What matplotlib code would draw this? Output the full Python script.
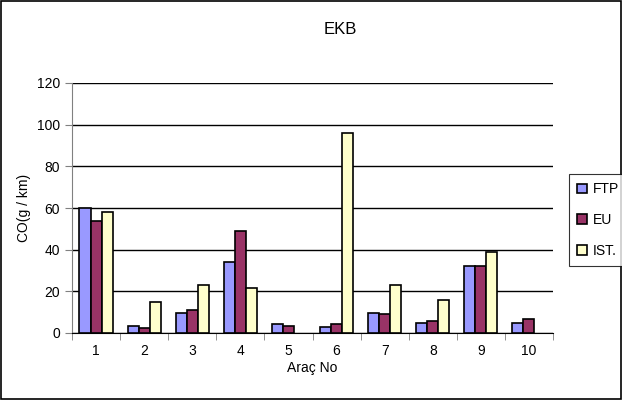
import numpy as np
import matplotlib.pyplot as plt
from matplotlib.patches import Rectangle

plt.rcParams['font.family'] = ['Liberation Sans', 'DejaVu Sans']

# data
vehicles = ['1', '2', '3', '4', '5', '6', '7', '8', '9', '10']
ftp = [60, 3.4, 9.8, 34, 4.2, 2.7, 9.8, 5, 32, 5]
eu = [54, 2.6, 11, 49, 3.4, 4.2, 9, 6, 32, 6.7]
ist = [58, 15, 23, 21.4, 0, 96, 23, 15.8, 38.7, 0]
series = ['FTP', 'EU', 'IST.']
colors = ['#9999FF', '#993366', '#FFFFCC']

fig = plt.figure(figsize=(6.22, 4.0), dpi=100)
ax = fig.add_axes([72/622, 1-333/400, (553-72)/622, 250/400])

x = np.arange(len(vehicles))
w = 0.23
for i, (vals, lab) in enumerate(zip([ftp, eu, ist], series)):
    bars = ax.bar(x + (i-1)*w, vals, w, color=colors[i], edgecolor='black', linewidth=1.2,
                  label=lab, zorder=3)
    for b, v in zip(bars, vals):
        if v == 0:
            b.set_visible(False)

ax.set_xlim(-0.5, len(vehicles)-0.5)
ax.set_ylim(0, 120)
ax.set_yticks(np.arange(0, 121, 20))
ax.yaxis.grid(True, color='black', linewidth=1)
ax.set_axisbelow(True)
ax.set_xticks(x)
ax.set_xticklabels(vehicles)
ax.set_xticks(np.arange(-0.5, len(vehicles), 1), minor=True)
ax.tick_params(axis='x', which='major', length=0, labelsize=10, pad=8)
ax.tick_params(axis='x', which='minor', length=5, color='gray')
ax.tick_params(axis='y', length=5, labelsize=10, color='gray')
for s in ['top', 'right']:
    ax.spines[s].set_visible(False)
ax.spines['left'].set_color('gray')
ax.spines['bottom'].set_color('black')

ax.set_xlabel('Araç No', fontsize=10, labelpad=2)
ax.set_ylabel('CO(g / km)', fontsize=10, labelpad=4)
fig.text(340/622, 1-30/400, 'EKB', ha='center', va='center', fontsize=12)

leg = fig.legend(loc='upper left', bbox_to_anchor=(562/622, 1-167/400), frameon=True,
                 fontsize=10, handlelength=0.7, handleheight=0.7, handletextpad=0.4,
                 labelspacing=1.2, borderpad=0.6, fancybox=False, edgecolor='black')
leg.get_frame().set_linewidth(0.8)

fig.patches.append(Rectangle((0.002, 0.002), 0.996, 0.996, transform=fig.transFigure,
                             fill=False, edgecolor='black', linewidth=1.2))

fig.savefig('out.png', dpi=100)
